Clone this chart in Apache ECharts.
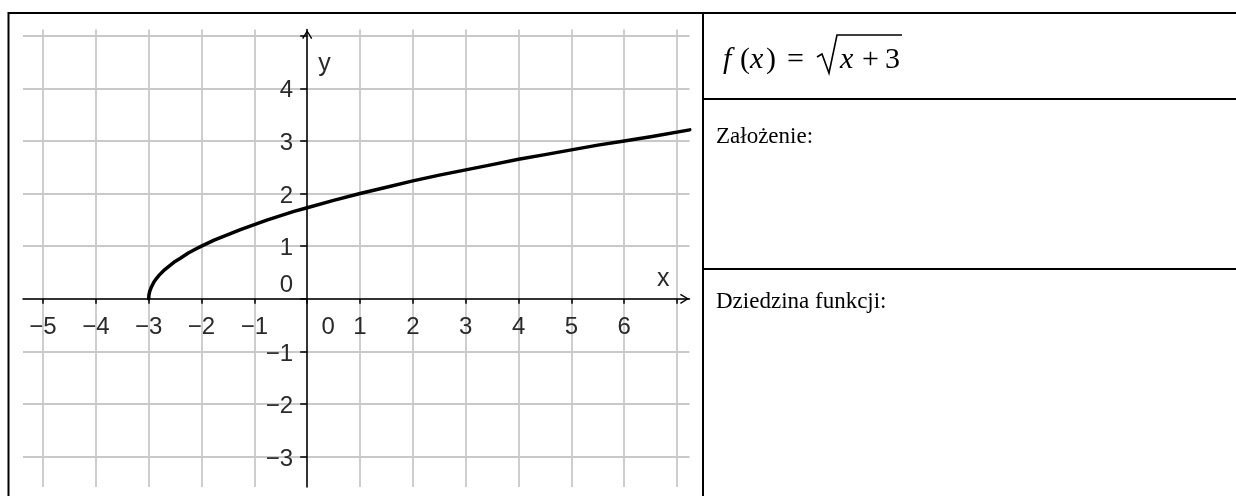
<!DOCTYPE html>
<html>
<head>
<meta charset="utf-8">
<script src="https://cdn.jsdelivr.net/npm/echarts@6.0.0/dist/echarts.min.js"></script>
<style>
html, body { margin: 0; padding: 0; background: #fff; }
#chart { width: 1236px; height: 496px; }
</style>
</head>
<body>
<div id="chart"></div>
<script>
// punkty wykresu
var curveX = [-3, -2.995, -2.98, -2.95, -2.9, -2.85, -2.8, -2.7, -2.6, -2.5, -2.4, -2.25, -2.1, -2, -1.75, -1.5, -1.25, -1, -0.75, -0.5, -0.25, 0, 0.5, 1, 1.5, 2, 2.5, 3, 3.5, 4, 4.5, 5, 5.5, 6, 6.5, 7.24];
var curveY = [0, 0.07, 0.14, 0.22, 0.32, 0.39, 0.45, 0.55, 0.63, 0.71, 0.77, 0.87, 0.95, 1, 1.12, 1.22, 1.32, 1.41, 1.5, 1.58, 1.66, 1.73, 1.87, 2, 2.12, 2.24, 2.35, 2.45, 2.55, 2.65, 2.74, 2.83, 2.92, 3, 3.08, 3.21];

var xTicks = [-5, -4, -3, -2, -1, 0, 1, 2, 3, 4, 5, 6, 7];
var xLabels = [-5, -4, -3, -2, -1, 0, 1, 2, 3, 4, 5, 6];
var yTicks = [-3, -2, -1, 0, 1, 2, 3, 4, 5];
var yLabels = [-3, -2, -1, 0, 1, 2, 3, 4];
var xRange = [-5.378, 7.235];
var yRange = [-3.576, 5.117];

var rowTitles = ['Założenie:', 'Dziedzina funkcji:'];

var sans = 'Liberation Sans, Arial, sans-serif';
var serif = 'Liberation Serif, Times New Roman, serif';
var chevron = 'path://M5,0 L10,8 L8.8,8.8 L5,2.3 L1.2,8.8 L0,8 Z';

function fmt(v) {
    return v < 0 ? '\u2212' + (-v) : String(v);
}

var lineBase = { stroke: '#000', lineWidth: 2 };
function hline(x1, x2, y) {
    return { type: 'line', shape: { x1: x1, y1: y, x2: x2, y2: y }, style: lineBase, silent: true };
}
function vline(x, y1, y2) {
    return { type: 'line', shape: { x1: x, y1: y1, x2: x, y2: y2 }, style: lineBase, silent: true };
}
function txt(x, y, s, size, italic) {
    return {
        type: 'text', x: x, y: y, silent: true,
        style: { text: s, fontFamily: serif, fontSize: size, fontStyle: italic ? 'italic' : 'normal', fill: '#000', verticalAlign: 'middle' }
    };
}

var graphics = [
    hline(8, 1236, 13),
    vline(8.5, 12, 496),
    vline(703, 12, 496),
    hline(703, 1236, 99),
    hline(703, 1236, 269),
    // f(x) = sqrt(x+3)
    txt(723, 60, 'f', 30, true),
    txt(740, 60, '(', 30, false),
    txt(750, 60, 'x', 30, true),
    txt(766, 60, ')', 30, false),
    txt(787, 60, '=', 30, false),
    { type: 'polyline', silent: true, shape: { points: [[817, 57], [822, 54], [829, 73], [837, 35], [902, 35]] },
      style: { stroke: '#000', lineWidth: 1.6, fill: null } },
    txt(840, 60, 'x', 30, true),
    txt(862, 60, '+', 30, false),
    txt(885, 60, '3', 30, false),
    txt(716, 137, rowTitles[0], 23, false),
    txt(716, 302, rowTitles[1], 23, false)
];

var axisLineStyle = { color: '#000', width: 1.5 };
var splitStyle = { color: '#c9c9c9', width: 1.8 };
var tickFont = { color: '#2a2a2a', fontSize: 24, fontFamily: sans };

var myChart = echarts.init(document.getElementById('chart'), null, { renderer: 'canvas' });
var option = {
    animation: false,
    backgroundColor: '#fff',
    grid: { left: 23, right: 546.5, top: 29.5, bottom: 9, containLabel: false, outerBoundsMode: 'none' },
    xAxis: {
        type: 'value',
        min: xRange[0],
        max: xRange[1],
        position: 'bottom',
        offset: 0,
        axisLine: { onZero: false, lineStyle: axisLineStyle, symbol: ['none', chevron], symbolSize: [16, 9], symbolOffset: [0, -5] },
        axisTick: { show: true, customValues: xTicks, length: 5, lineStyle: axisLineStyle },
        axisLabel: {
            customValues: xLabels,
            margin: 17,
            formatter: function (v) { return v === 0 ? '{z|0}' : '{n|' + fmt(v) + '}'; },
            rich: {
                n: tickFont,
                z: echarts.util.extend({ padding: [0, 0, 0, 42] }, tickFont)
            }
        },
        splitLine: { show: true, lineStyle: splitStyle }
    },
    yAxis: {
        type: 'value',
        min: yRange[0],
        max: yRange[1],
        position: 'left',
        offset: 0,
        axisLine: { onZero: false, lineStyle: axisLineStyle, symbol: ['none', chevron], symbolSize: [16, 9], symbolOffset: [0, -5] },
        axisTick: { show: true, customValues: yTicks, length: 7, lineStyle: axisLineStyle },
        axisLabel: {
            customValues: yLabels,
            margin: 14,
            formatter: function (v) { return v === 0 ? '{z|0}' : '{n|' + fmt(v) + '}'; },
            rich: {
                n: echarts.util.extend({ padding: [5, 0, 0, 0] }, tickFont),
                z: echarts.util.extend({ padding: [0, 0, 27, 0] }, tickFont)
            }
        },
        splitLine: { show: true, lineStyle: splitStyle }
    },
    series: [{
        type: 'line',
        data: curveX.map(function (x, i) { return [x, curveY[i]]; }),
        showSymbol: false,
        symbol: 'none',
        smooth: false,
        clip: true,
        silent: true,
        lineStyle: { color: '#000', width: 3.5, cap: 'round', join: 'round' },
        z: 5
    }],
    graphic: graphics
};
myChart.setOption(option);

// osie przesuwamy do punktu (0,0)
var origin = myChart.convertToPixel({ gridIndex: 0 }, [0, 0]);
var leftPx = myChart.convertToPixel({ xAxisIndex: 0 }, xRange[0]);
var rightPx = myChart.convertToPixel({ xAxisIndex: 0 }, xRange[1]);
var bottomPx = myChart.convertToPixel({ yAxisIndex: 0 }, yRange[0]);
var topPx = myChart.convertToPixel({ yAxisIndex: 0 }, yRange[1]);

var nameStyle = { fontFamily: sans, fontSize: 25, fill: '#2a2a2a', verticalAlign: 'middle' };
myChart.setOption({
    xAxis: { offset: origin[1] - bottomPx },
    yAxis: { offset: leftPx - origin[0] },
    graphic: graphics.concat([
        { type: 'text', silent: true, x: rightPx - 20, y: origin[1] - 20,
          style: echarts.util.extend({ text: 'x', align: 'right' }, nameStyle) },
        { type: 'text', silent: true, x: origin[0] + 11, y: topPx + 35,
          style: echarts.util.extend({ text: 'y', align: 'left' }, nameStyle) }
    ])
});
</script>
</body>
</html>
